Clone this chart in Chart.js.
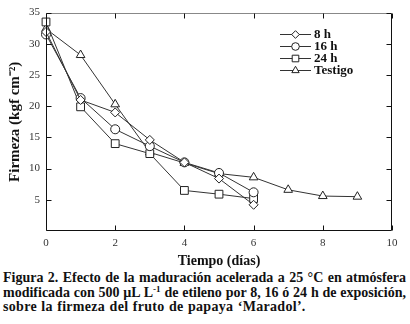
<!DOCTYPE html>
<html>
<head>
<meta charset="utf-8">
<script src="https://cdn.jsdelivr.net/npm/chart.js@4/dist/chart.umd.min.js"></script>
<style>
  body { margin: 0; background: #fff; }
  #wrap { position: relative; width: 410px; height: 324px; }
  #caption {
    position: absolute; left: 3px; top: 271px; width: 403px;
    font: bold 14px "Liberation Serif", serif; line-height: 14.5px; color: #111;
  }
  #caption .j { text-align: justify; text-align-last: justify; white-space: nowrap; }
  #caption .last { letter-spacing: 0.3px; word-spacing: 0.6px; }
  #caption sup { font-size: 9px; vertical-align: 5px; line-height: 0; }
</style>
</head>
<body>
<div id="wrap">
  <canvas id="chart" width="410" height="270"></canvas>
  <div id="caption">
    <div class="j">Figura 2. Efecto de la maduración acelerada a 25 °C en atmósfera</div>
    <div class="j">modificada con 500 µL L<sup>-1</sup> de etileno por 8, 16 ó 24 h de exposición,</div>
    <div class="last">sobre la firmeza del fruto de papaya ‘Maradol’.</div>
  </div>
</div>
<script>
// datos
const days = [0, 1, 2, 3, 4, 5, 6];
const daysTestigo = [0, 1, 2, 3, 4, 5, 6, 7, 8, 9];
const firmeza8h = [31.9, 21.0, 19.0, 14.6, 11.0, 8.4, 4.2];
const firmeza16h = [31.5, 21.3, 16.3, 13.6, 11.0, 9.3, 6.2];
const firmeza24h = [33.5, 19.9, 14.0, 12.4, 6.5, 5.9, 5.2];
const firmezaTestigo = [32.4, 28.2, 20.3, 12.6, 10.9, 9.2, 8.6, 6.6, 5.6, 5.5];
const seriesLabels = ["8 h", "16 h", "24 h", "Testigo"];
const xTicks = [0, 2, 4, 6, 8, 10];
const yTicks = [5, 10, 15, 20, 25, 30, 35];

const pts = (xs, ys) => xs.map((x, i) => ({ x, y: ys[i] }));
const markers = [
    { pointStyle: "rectRot", pointRadius: 4.5 },
    { pointStyle: "circle", pointRadius: 4.5 },
    { pointStyle: "rect", pointRadius: 5.5 },
    { pointStyle: "triangle", pointRadius: 5 },
];
const serif = "'Liberation Serif', 'Times New Roman', serif";

const series = [
    pts(days, firmeza8h),
    pts(days, firmeza16h),
    pts(days, firmeza24h),
    pts(daysTestigo, firmezaTestigo),
];

// marco con marcas hacia adentro + leyenda con linea y simbolo
const frame = {
    id: "frame",
    afterDatasetsDraw(chart) {
        const { ctx, chartArea: a, scales } = chart;
        const L = Math.round(a.left) + 0.5, R = Math.round(a.right) - 0.5;
        const T = Math.round(a.top) + 0.5, B = Math.round(a.bottom) - 0.5;
        ctx.save();
        ctx.lineWidth = 1;
        ctx.strokeStyle = "#111";
        ctx.beginPath();
        ctx.moveTo(L, T); ctx.lineTo(L, B); ctx.lineTo(R, B); ctx.lineTo(R, T);
        ctx.stroke();
        ctx.strokeStyle = "#888";
        ctx.beginPath(); ctx.moveTo(L, T); ctx.lineTo(R, T); ctx.stroke();
        ctx.strokeStyle = "#111";
        ctx.beginPath();
        xTicks.forEach(v => {
            const x = Math.round(scales.x.getPixelForValue(v)) + 0.5;
            ctx.moveTo(x, B); ctx.lineTo(x, B - 5);
            ctx.moveTo(x, T); ctx.lineTo(x, T + 5);
        });
        yTicks.forEach(v => {
            const y = Math.round(scales.y.getPixelForValue(v)) + 0.5;
            ctx.moveTo(L, y); ctx.lineTo(L + 5, y);
            ctx.moveTo(R, y); ctx.lineTo(R - 5, y);
        });
        ctx.stroke();

        // leyenda
        const rows = [34, 46, 58, 70];
        ctx.font = "bold 13px " + serif;
        ctx.textBaseline = "middle";
        chart.data.datasets.forEach((ds, i) => {
            const y = rows[i];
            ctx.strokeStyle = "#333";
            ctx.beginPath(); ctx.moveTo(280, y + 0.5); ctx.lineTo(311, y + 0.5); ctx.stroke();
            ctx.fillStyle = "#fff";
            ctx.strokeStyle = "#222";
            Chart.helpers.drawPoint(ctx, {
                pointStyle: ds.pointStyle,
                radius: ds.pointRadius * 0.85,
                rotation: 0,
                borderWidth: 1,
            }, 295.5, y + 0.5);
            ctx.fillStyle = "#111";
            ctx.fillText(ds.label, 314, y + 0.5);
        });
        ctx.restore();
    },
};

new Chart(document.getElementById("chart"), {
    type: "scatter",
    data: {
        datasets: series.map((data, i) => ({
            label: seriesLabels[i],
            data,
            showLine: true,
            borderColor: "#333",
            borderWidth: 1,
            pointBackgroundColor: "#fff",
            pointBorderColor: "#222",
            pointBorderWidth: 1,
            pointHoverRadius: markers[i].pointRadius,
            clip: false,
            ...markers[i],
        })),
    },
    options: {
        responsive: false,
        animation: false,
        events: [],
        layout: { padding: { top: 12, right: 18, left: 0, bottom: 0 } },
        plugins: { legend: { display: false }, tooltip: { enabled: false } },
        scales: {
            x: {
                type: "linear",
                min: 0,
                max: 10,
                afterFit: s => { s.height = 39; },
                afterBuildTicks: s => { s.ticks = xTicks.map(v => ({ value: v })); },
                grid: { display: false, drawTicks: false },
                border: { display: false },
                ticks: { color: "#333", padding: 6, font: { family: serif, size: 11 } },
                title: {
                    display: true,
                    text: "Tiempo (días)",
                    color: "#111",
                    padding: { top: 0, bottom: 0 },
                    font: { family: serif, size: 14, weight: "bold" },
                },
            },
            y: {
                min: 0,
                max: 35,
                afterFit: s => { s.width = 46; },
                afterBuildTicks: s => { s.ticks = yTicks.map(v => ({ value: v })); },
                grid: { display: false, drawTicks: false },
                border: { display: false },
                ticks: { color: "#333", padding: 6, font: { family: serif, size: 11 } },
                title: {
                    display: true,
                    text: "Firmeza (kgf cm⁻²)",
                    color: "#111",
                    padding: { top: 6, bottom: 0 },
                    font: { family: serif, size: 15, weight: "bold" },
                },
            },
        },
    },
    plugins: [frame],
});
</script>
</body>
</html>
